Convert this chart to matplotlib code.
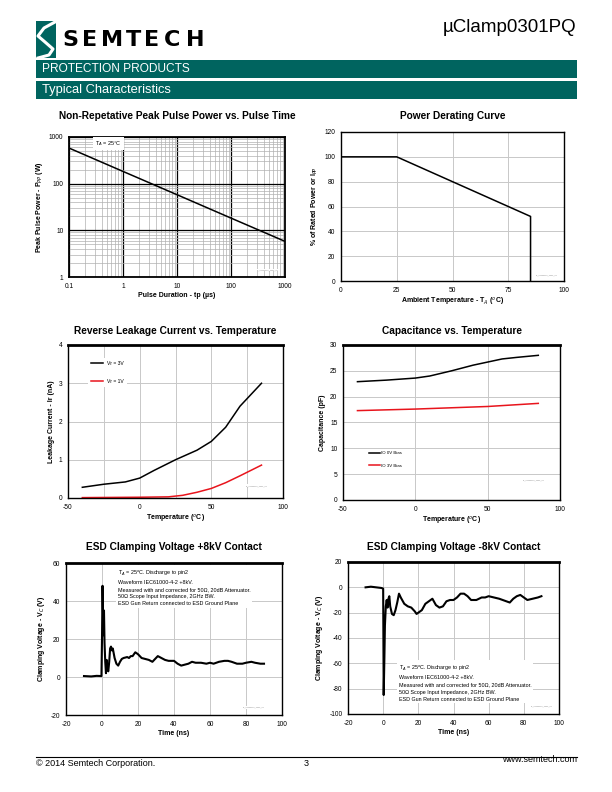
import matplotlib
matplotlib.use("Agg")
import matplotlib.pyplot as plt
import numpy as np
from matplotlib.patches import Rectangle

plt.rcParams['font.family'] = ['Liberation Sans', 'DejaVu Sans']
plt.rcParams['axes.unicode_minus'] = False

TEAL = '#00645f'
GRID = '#c8c8c8'

# ---- data ----
# peak pulse power vs pulse time
tp_us = [0.1, 1, 10, 100, 1000]
ppk_w = [580, 183, 58, 18.3, 5.8]

# power derating
derate_t = [0, 25, 85, 85]
derate_pct = [100, 100, 52, 0]

# reverse leakage
leak_t = [-40, -25, -10, 0, 10, 25, 40, 50, 60, 70, 85]
leak_3v = [0.28, 0.36, 0.42, 0.52, 0.72, 1.0, 1.25, 1.48, 1.85, 2.4, 3.0]
leak_1v_t = [-40, 0, 20, 30, 40, 50, 60, 70, 85]
leak_1v = [0.01, 0.02, 0.03, 0.07, 0.15, 0.25, 0.4, 0.58, 0.86]

# capacitance
cap_t = [-40, -20, 0, 10, 25, 40, 50, 60, 70, 85]
cap_0v = [22.9, 23.2, 23.6, 24.0, 25.0, 26.1, 26.7, 27.3, 27.6, 28.0]
cap_3v_t = [-40, 0, 50, 85]
cap_3v = [17.3, 17.6, 18.1, 18.7]

# ESD +8kV
pos_t = [-10, -6, -3, -0.3, 0, 0.3, 0.8, 1.1, 1.4, 1.8, 2.2, 2.6, 3.0, 3.5, 4.0, 4.5, 5.0, 5.5, 6.0,
         7.0, 8.0, 9.0, 10, 11, 12, 14, 15, 16, 17, 18.5, 20, 22, 24, 26, 28, 30, 31, 33, 35, 37,
         40, 42, 44, 46, 48, 50, 52, 55, 58, 60, 62, 65, 68, 70, 72, 75, 78, 80, 83, 85, 88, 90]
pos_v = [0.5, 0.3, 0.6, 0.5, 20, 48, 22, 35, 18, 8, 2, 9, 4, 3, 8, 15, 16, 14, 15,
         10, 7, 6, 8, 9.5, 10, 10.5, 10, 11, 11, 13, 12, 10, 9.5, 9, 8, 10, 11, 10, 9, 8.5,
         8.5, 7, 6, 6.5, 7, 8, 7.5, 7.5, 7, 7.5, 7, 8, 8.5, 8.5, 8, 7, 7, 7.5, 8, 7.5, 7, 7]

# ESD -8kV
neg_t = [-10, -7, -4, -1, 0, 0.3, 0.7, 1.0, 1.5, 2.0, 2.5, 3.0, 3.5, 4.0, 5.0, 6.0, 7.0, 8.0, 9.0,
         10, 12, 14, 16, 18, 19, 20, 22, 24, 27, 28, 30, 32, 34, 36, 38, 40, 42, 44, 46, 48, 50,
         53, 56, 58, 60, 63, 66, 68, 70, 72, 74, 76, 78, 80, 82, 85, 88, 90]
neg_v = [0, 0.5, 0, -0.5, -1, -85, -55, -30, -15, -10, -16, -9, -7, -15, -21, -22, -18, -12, -5,
         -8, -13, -15, -16, -19, -21, -20, -18, -13, -10, -9, -14, -16, -15, -11, -10, -10, -8, -5, -5, -7, -10,
         -10, -8, -8, -7, -8, -9, -10, -11, -12, -9, -7, -6, -8, -10, -9, -8, -7]

fig = plt.figure(figsize=(6.12, 7.92), dpi=100)


def ax_at(l, t, r, b):
    return fig.add_axes([l / 612, 1 - b / 792, (r - l) / 612, (b - t) / 792])


def fx(x):
    return np.asarray(x) / 612


def fy(y):
    return 1 - np.asarray(y) / 792


# ---- header ----
fig.patches.append(Rectangle((fx(36), fy(58)), fx(20), 37 / 792, transform=fig.transFigure,
                             facecolor=TEAL, edgecolor='none'))
sx = np.array([55, 44, 38, 45, 53, 49, 38])
sy = np.array([22, 28, 36, 42, 49, 55, 58])
fig.lines.append(plt.Line2D(fx(sx), fy(sy), transform=fig.transFigure, color='white', lw=2.2))
# letter-spaced logotype
for ch, cx in zip('SEMTECH', [70, 90, 112, 133, 152, 172, 195]):
    fig.text(fx(cx), fy(40), ch, fontsize=16, fontweight='bold', family='DejaVu Sans',
             va='center', ha='center')
fig.text(fx(576), fy(28), 'µClamp0301PQ', fontsize=13.5, va='center', ha='right')

for top, label, fs in [(60, 'PROTECTION PRODUCTS', 8.6), (81, 'Typical Characteristics', 9.3)]:
    fig.patches.append(Rectangle((fx(36), fy(top + 18)), fx(541), 18 / 792,
                                 transform=fig.transFigure, facecolor=TEAL, edgecolor='none'))
    fig.text(fx(42), fy(top + 9), label, color='white', fontsize=fs, va='center', ha='left')

# ---- footer ----
fig.lines.append(plt.Line2D([fx(36), fx(577)], [fy(757), fy(757)], transform=fig.transFigure,
                            color='black', lw=0.8))
fig.text(fx(36), fy(763), '© 2014 Semtech Corporation.', fontsize=6.5, va='center')
fig.text(fx(306), fy(763), '3', fontsize=6.5, va='center', ha='center')
fig.text(fx(577), fy(759), 'www.semtech.com', fontsize=6.5, va='center', ha='right')

TICK_FS = 4.8
LAB_FS = 5


def style(ax, title, xlabel, ylabel, pad):
    ax.set_title(title, fontsize=7.3, fontweight='bold', pad=pad)
    ax.set_xlabel(xlabel, fontsize=LAB_FS, fontweight='bold', labelpad=2)
    ax.set_ylabel(ylabel, fontsize=LAB_FS, fontweight='bold', labelpad=3)
    ax.tick_params(labelsize=TICK_FS, length=0, pad=4)
    for s in ax.spines.values():
        s.set_linewidth(1.0)
    ax.spines['top'].set_linewidth(2.0)
    ax.set_axisbelow(True)


def tag(ax, x, y, txt='xx_xxxxxxxx_xxxx_xx'):
    ax.text(x, y, txt, transform=ax.transAxes, fontsize=1.6, color='#888888', ha='right',
            va='center', bbox=dict(facecolor='white', edgecolor='none', pad=0.5))


# ---- chart 1: peak pulse power ----
ax1 = ax_at(69, 137, 285, 277)
ax1.loglog(tp_us, ppk_w, color='black', lw=1.1)
ax1.set_xlim(0.1, 1000)
ax1.set_ylim(1, 1000)
ax1.grid(True, which='major', color='black', lw=0.9)
ax1.grid(True, which='minor', color='#b0b0b0', lw=0.5)
ax1.set_xticks([0.1, 1, 10, 100, 1000])
ax1.set_xticklabels(['0.1', '1', '10', '100', '1000'])
ax1.set_yticks([1, 10, 100, 1000])
ax1.set_yticklabels(['1', '10', '100', '1000'])
ax1.tick_params(which='minor', length=0)
style(ax1, 'Non-Repetative Peak Pulse Power vs. Pulse Time', 'Pulse Duration - tp (µs)',
      'Peak Pulse Power - P$_{PP}$ (W)', 13)
for s in ax1.spines.values():
    s.set_linewidth(1.3)
ax1.text(0.12, 0.955, 'T$_A$ = 25°C', transform=ax1.transAxes, fontsize=4, va='center',
         bbox=dict(facecolor='white', edgecolor='none', pad=1.5))
tag(ax1, 0.97, 0.05)

# ---- chart 2: power derating ----
ax2 = ax_at(341, 132, 564, 281)
ax2.plot(derate_t, derate_pct, color='black', lw=1.1)
ax2.set_xlim(0, 100)
ax2.set_ylim(0, 120)
ax2.set_xticks([0, 25, 50, 75, 100])
ax2.set_yticks(np.arange(0, 121, 20))
ax2.grid(True, color=GRID, lw=0.7)
style(ax2, 'Power Derating Curve', 'Ambient Temperature - T$_A$ ($^o$C)',
      '% of Rated Power or I$_{PP}$', 9.4)
ax2.spines['top'].set_linewidth(1.0)
tag(ax2, 0.97, 0.04)

# ---- chart 3: reverse leakage ----
ax3 = ax_at(68, 345, 283, 498)
ax3.plot(leak_t, leak_3v, color='black', lw=1.1, label='Vr = 3V')
ax3.plot(leak_1v_t, leak_1v, color='#e8141c', lw=1.1, label='Vr = 1V')
ax3.set_xlim(-50, 100)
ax3.set_ylim(0, 4)
ax3.set_xticks([-50, 0, 50, 100])
ax3.set_yticks([0, 1, 2, 3, 4])
ax3.xaxis.set_minor_locator(matplotlib.ticker.MultipleLocator(25))
ax3.grid(True, which='both', color=GRID, lw=0.7)
ax3.tick_params(which='minor', length=0)
style(ax3, 'Reverse Leakage Current vs. Temperature', 'Temperature ($^o$C)',
      'Leakage Current - Ir (nA)', 8)
ax3.legend(loc='upper left', bbox_to_anchor=(0.08, 0.93), fontsize=3.6, frameon=True,
           facecolor='white', edgecolor='none', framealpha=1, handlelength=2.5,
           labelspacing=2.5, borderpad=0.6)
tag(ax3, 0.93, 0.08)

# ---- chart 4: capacitance ----
ax4 = ax_at(343, 345, 560, 500)
ax4.plot(cap_t, cap_0v, color='black', lw=1.1, label='IO 0V Bias')
ax4.plot(cap_3v_t, cap_3v, color='#e8141c', lw=1.1, label='IO 3V Bias')
ax4.set_xlim(-50, 100)
ax4.set_ylim(0, 30)
ax4.set_xticks([-50, 0, 50, 100])
ax4.set_yticks(np.arange(0, 31, 5))
ax4.grid(True, color=GRID, lw=0.7)
style(ax4, 'Capacitance vs. Temperature', 'Temperature ($^o$C)', 'Capacitance (pF)', 8)
ax4.legend(loc='upper left', bbox_to_anchor=(0.1, 0.34), fontsize=3.2, frameon=False,
           handlelength=2.5, labelspacing=1.8, handletextpad=0.2)
tag(ax4, 0.93, 0.13)

# ---- chart 5: ESD +8kV ----
note = ('T$_A$ = 25$^o$C. Discharge to pin2\nWaveform IEC61000-4-2 +8kV.\n'
        'Measured with and corrected for 50Ω, 20dB Attenuator.\n'
        '50Ω Scope Input Impedance, 2GHz BW.\nESD Gun Return connected to ESD Ground Plane')
ax5 = ax_at(66, 563, 282, 715)
ax5.plot(pos_t, pos_v, color='black', lw=1.5)
ax5.set_xlim(-20, 100)
ax5.set_ylim(-20, 60)
ax5.set_xticks(np.arange(-20, 101, 20))
ax5.set_yticks(np.arange(-20, 61, 20))
ax5.grid(True, color=GRID, lw=0.7)
style(ax5, 'ESD Clamping Voltage +8kV Contact', 'Time (ns)', 'Clamping Voltage - V$_C$ (V)', 9.4)
ax5.text(0.24, 0.965, note, transform=ax5.transAxes, fontsize=3.9, va='top', linespacing=1.55,
         bbox=dict(facecolor='white', edgecolor='none', pad=1))
tag(ax5, 0.92, 0.05)

# ---- chart 6: ESD -8kV ----
ax6 = ax_at(348, 562, 559, 714)
ax6.plot(neg_t, neg_v, color='black', lw=1.5)
ax6.set_xlim(-20, 100)
ax6.set_ylim(-100, 20)
ax6.set_xticks(np.arange(-20, 101, 20))
ax6.set_yticks(np.arange(-100, 21, 20))
ax6.grid(True, color=GRID, lw=0.7)
style(ax6, 'ESD Clamping Voltage -8kV Contact', 'Time (ns)', 'Clamping Voltage - V$_C$ (V)', 8.6)
ax6.text(0.24, 0.33, note, transform=ax6.transAxes, fontsize=3.9, va='top', linespacing=1.55,
         bbox=dict(facecolor='white', edgecolor='none', pad=1))
tag(ax6, 0.97, 0.05)

fig.savefig('out.png', dpi=100)
